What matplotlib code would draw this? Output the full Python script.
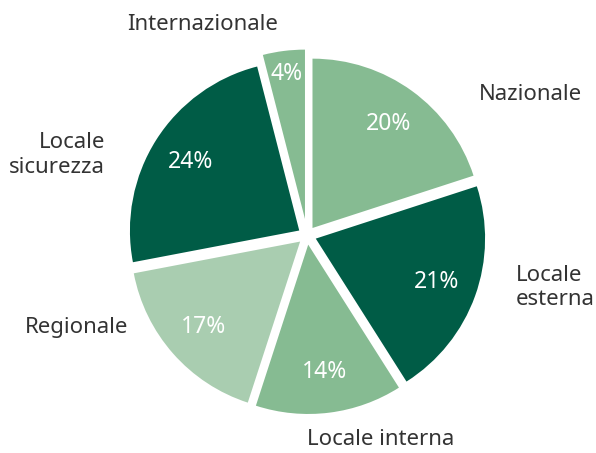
import matplotlib
matplotlib.use('Agg')
import numpy as np
import matplotlib.pyplot as plt

plt.rcParams['font.family'] = ['Noto Sans', 'DejaVu Sans']

labels = ['Nazionale', 'Locale\nesterna', 'Locale interna', 'Regionale',
          'Locale\nsicurezza', 'Internazionale']
values = [20, 21, 14, 17, 24, 4]
colors = ['#86bb92', '#005c46', '#86bb92', '#a9cdb0', '#005c46', '#86bb92']
explode = [0.05, 0.05, 0.05, 0.05, 0.05, 0.09]

# label placement (data coords) and alignment
label_pos = [(1.205, 0.76), (1.13, -0.28), (0.40, -1.105), (-1.243, -0.50),
             (-1.092, 0.435), (-0.562, 1.138)]
label_ha = ['center', 'left', 'center', 'center', 'right', 'center']

R = 0.915

fig = plt.figure(figsize=(5.96, 4.53), dpi=100)
ax = fig.add_axes([0.2047, 0.0717, 0.621, 0.817])

wedges, texts, autotexts = ax.pie(
    values, colors=colors, startangle=90, counterclock=False,
    radius=R, explode=explode, autopct='%d%%', pctdistance=0.76,
    wedgeprops=dict(linewidth=0),
    textprops=dict(color='white', fontsize=16.5))

# small slice: percentage sits further out
w = wedges[-1]
tm = np.deg2rad((w.theta1 + w.theta2) / 2)
cx, cy = w.center
autotexts[-1].set_position((cx + 0.865 * R * np.cos(tm), cy + 0.865 * R * np.sin(tm)))

for lab, (lx, ly), ha in zip(labels, label_pos, label_ha):
    ax.text(lx, ly, lab, ha=ha, va='center', fontsize=16, color='#333333',
            linespacing=1.2)

ax.set_xlim(-1, 1)
ax.set_ylim(-1, 1)
ax.set_aspect('equal')
ax.axis('off')

plt.savefig('out.png', dpi=100)
plt.close()
